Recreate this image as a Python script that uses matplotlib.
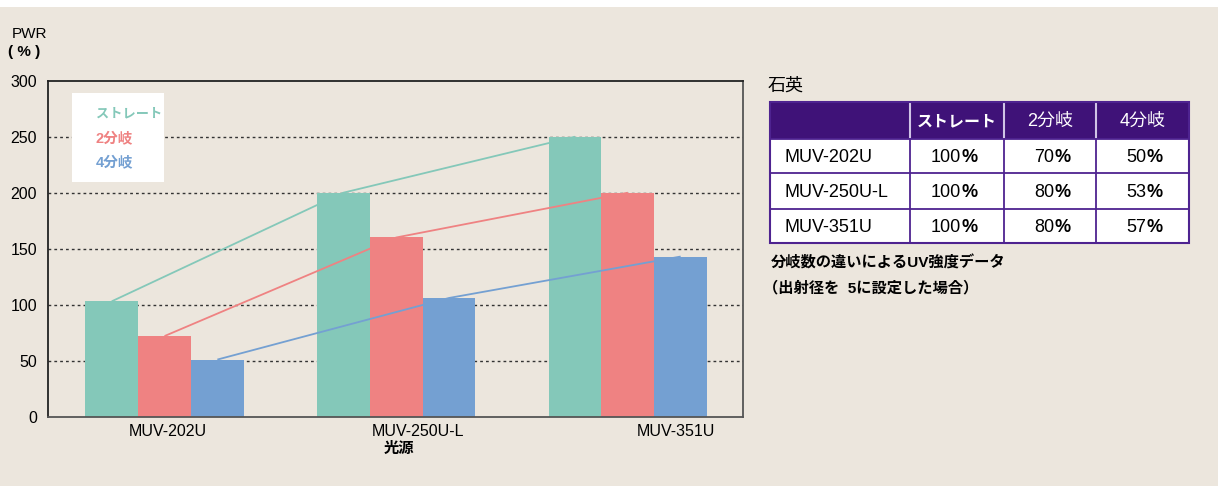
import matplotlib
matplotlib.use("Agg")
import matplotlib.pyplot as plt
from matplotlib.patches import Rectangle
import numpy as np

plt.rcParams['font.family'] = ['Liberation Sans', 'Noto Sans CJK JP']

# ---- data ----
sources = ["MUV-202U", "MUV-250U-L", "MUV-351U"]
series_names = ["ストレート", "2分岐", "4分岐"]
straight = [103, 200, 250]
branch2 = [72, 160, 200]
branch4 = [51, 106, 143]
y_ticks = [0, 50, 100, 150, 200, 250, 300]

table_rows = ["MUV-202U", "MUV-250U-L", "MUV-351U"]
table_cols = ["ストレート", "2分岐", "4分岐"]
pct_straight = [100, 100, 100]
pct_2 = [70, 80, 80]
pct_4 = [50, 53, 57]

# ---- style ----
W, H = 1223, 486
BG = "#ECE6DD"
colors = ["#84C8B9", "#EF8282", "#74A0D2"]

fig = plt.figure(figsize=(W / 100, H / 100), dpi=100)
fig.patch.set_facecolor("white")
fig.add_artist(Rectangle((0, 0), 1218 / W, (H - 7) / H, transform=fig.transFigure,
                         facecolor=BG, edgecolor="none", zorder=0))

def fx(px):
    return px / W

def fy(py):
    return 1 - py / H

ax_l, ax_r, ax_t, ax_b = 48, 743, 80.7, 416.7
ax = fig.add_axes([fx(ax_l), fy(ax_b), fx(ax_r - ax_l), (ax_b - ax_t) / H])
ax.set_facecolor(BG)

x = np.arange(len(sources))
bw = 0.228
offsets = [-bw, 0, bw]
for vals, c, off in zip([straight, branch2, branch4], colors, offsets):
    ax.bar(x + off, vals, width=bw, color=c, zorder=2, linewidth=0)
for vals, c, off in zip([straight, branch2, branch4], colors, offsets):
    ax.plot(x + off, vals, color=c, lw=1.3, zorder=3, solid_capstyle="butt")

ax.set_xlim(-0.503, 2.497)
ax.set_ylim(0, 300)
ax.set_yticks(y_ticks)
ax.set_yticklabels([str(v) for v in y_ticks], fontsize=11.5)
ax.tick_params(axis='y', length=0, pad=8)
ax.tick_params(axis='x', length=0, pad=5)
label_shift = [0.015, 0.094, 0.207]
ax.set_xticks(x + np.array(label_shift))
ax.set_xticklabels(sources, fontsize=11.5)
for yv in y_ticks[1:-1]:
    ax.axhline(yv, color="#333333", lw=1.0, ls=(0, (2, 2.2)), zorder=1)

for side, col in [("left", "#222222"), ("top", "#222222"), ("right", "#555555"), ("bottom", "#555555")]:
    ax.spines[side].set_color(col)
    ax.spines[side].set_linewidth(1.3)

# ---- overlay in pixel coords ----
ov = fig.add_axes([0, 0, 1, 1])
ov.set_xlim(0, W)
ov.set_ylim(H, 0)
ov.axis("off")
ov.patch.set_alpha(0)

# axis titles
ov.text(12, 34, "PWR", fontsize=11, ha="left", va="center")
ov.text(8, 52, "( % )", fontsize=11, fontweight="bold", ha="left", va="center")
ov.text(399, 449, "光源", fontsize=11, fontweight="bold", ha="center", va="center")

# legend box
ov.add_patch(Rectangle((72, 93), 92, 89, facecolor="white", edgecolor="none", zorder=5))
leg_y = [114, 138, 162]
leg_fs = [9.5, 10.5, 10.5]
for name, c, yy, fs in zip(series_names, colors, leg_y, leg_fs):
    ov.text(96, yy, name, color=c, fontsize=fs, fontweight="bold", ha="left", va="center", zorder=6)

# table
ov.text(768, 86, "石英", fontsize=13, ha="left", va="center")
col_x = [770, 910, 1004.3, 1096.3, 1189]
row_y = [102.3, 138.8, 173.3, 208.7, 243.3]
HEAD = "#3F1278"
LINE = "#4E2390"
ov.add_patch(Rectangle((col_x[0], row_y[0]), col_x[-1] - col_x[0], row_y[1] - row_y[0],
                       facecolor=HEAD, edgecolor="none", zorder=4))
ov.add_patch(Rectangle((col_x[0], row_y[1]), col_x[-1] - col_x[0], row_y[-1] - row_y[1],
                       facecolor="white", edgecolor="none", zorder=4))
for cx in col_x[1:-1]:
    ov.plot([cx, cx], [row_y[0], row_y[1]], color="#D0C4E6", lw=1.5, zorder=5)
    ov.plot([cx, cx], [row_y[1], row_y[-1]], color=LINE, lw=1.3, zorder=5)
for ry in row_y[1:-1]:
    ov.plot([col_x[0], col_x[-1]], [ry, ry], color=LINE, lw=1.3, zorder=5)
ov.add_patch(Rectangle((col_x[0], row_y[0]), col_x[-1] - col_x[0], row_y[-1] - row_y[0],
                       facecolor="none", edgecolor=LINE, lw=1.5, zorder=6))

head_fs = [11.5, 13, 13]
for i, (name, fs) in enumerate(zip(table_cols, head_fs)):
    cxm = (col_x[i + 1] + col_x[i + 2]) / 2
    ov.text(cxm, (row_y[0] + row_y[1]) / 2 + 1, name, color="white", fontsize=fs,
            fontweight="bold" if i == 0 else "normal", ha="center", va="center", zorder=7)

pcts = [pct_straight, pct_2, pct_4]
for r, rname in enumerate(table_rows):
    ym = (row_y[r + 1] + row_y[r + 2]) / 2 + 1
    ov.text(784, ym, rname, fontsize=13, ha="left", va="center", zorder=7)
    for cidx in range(3):
        cxm = (col_x[cidx + 1] + col_x[cidx + 2]) / 2 + 4
        ov.text(cxm, ym, str(pcts[cidx][r]), fontsize=13, ha="right", va="center", zorder=7)
        ov.text(cxm, ym, "%", fontsize=13, fontweight="bold", ha="left", va="center", zorder=7)

ov.text(771, 263, "分岐数の違いによるUV強度データ", fontsize=11, fontweight="bold",
        ha="left", va="center")
ov.text(763, 288, "（出射径を  5に設定した場合）", fontsize=11, fontweight="bold",
        ha="left", va="center")

fig.savefig("out.png", dpi=100, facecolor=fig.get_facecolor())
